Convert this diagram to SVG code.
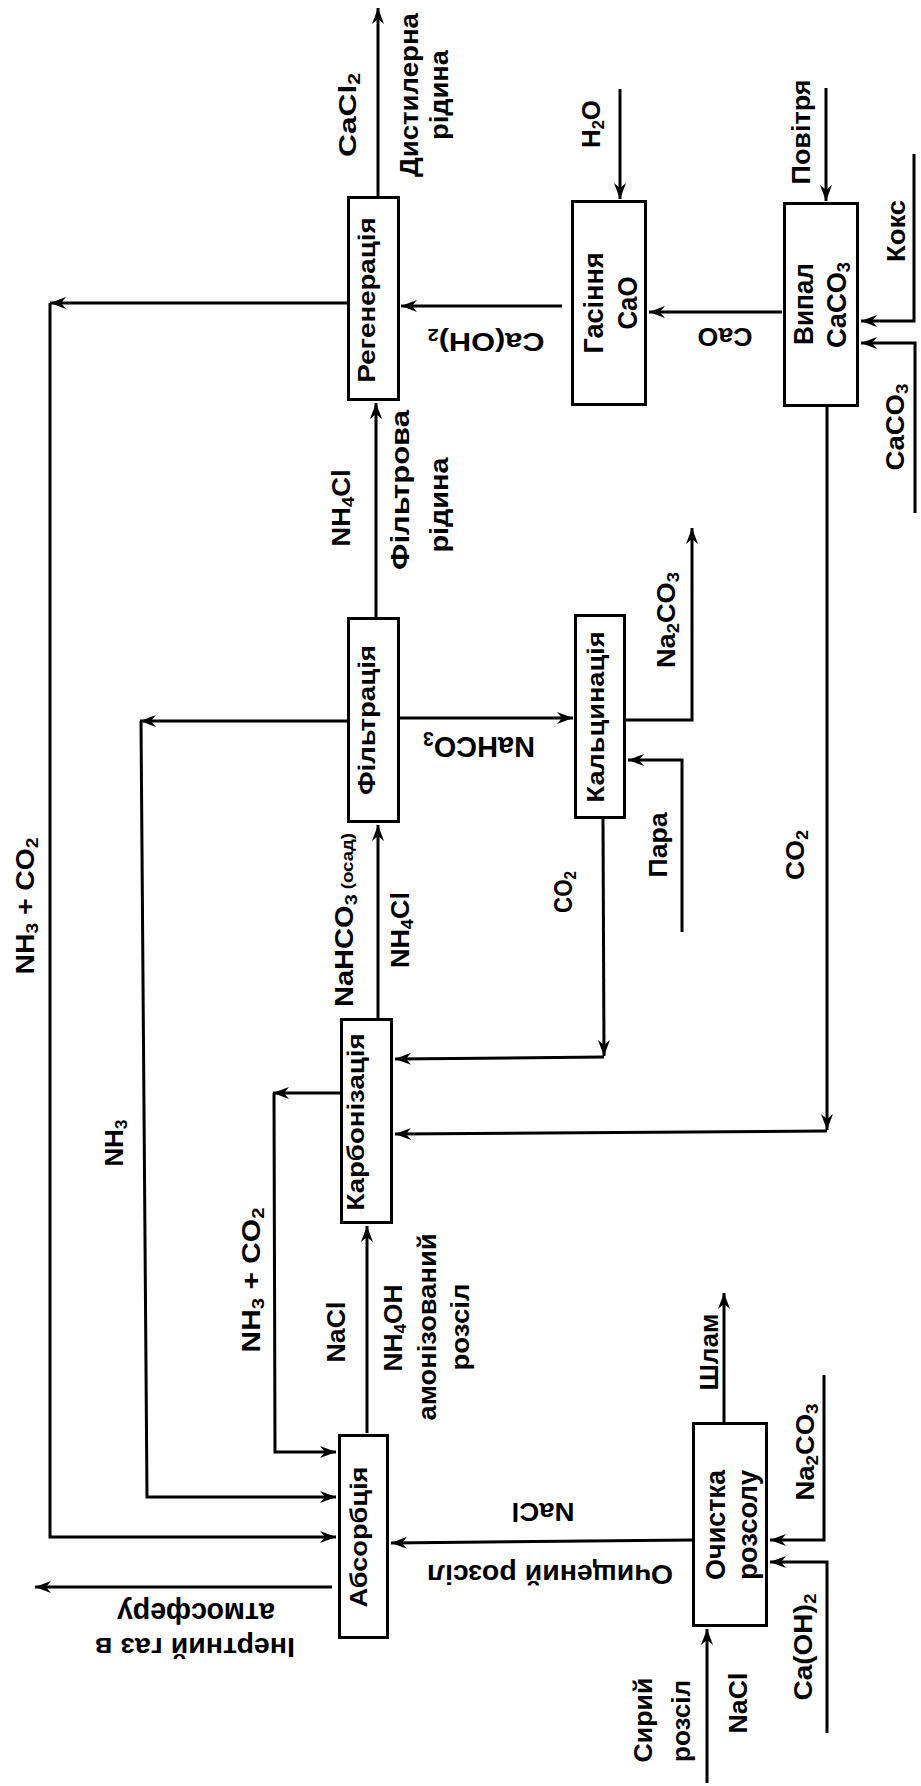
<svg xmlns="http://www.w3.org/2000/svg" width="921" height="1786" viewBox="0 0 921 1786">
<style>
.t{font-family:"Liberation Sans",Arial,sans-serif;font-weight:bold;fill:#000}
.c{fill:none;stroke:#000;stroke-width:3}
.box{fill:#fff;stroke:#000;stroke-width:3}
</style>
<defs>
<marker id="ah" viewBox="-17 -7 18 14" refX="0" refY="0" markerWidth="18" markerHeight="14" markerUnits="userSpaceOnUse" orient="auto">
<path d="M0,0 L-16,-6 L-11,0 L-16,6 Z" fill="#000"/>
</marker>
</defs>
<rect width="921" height="1786" fill="#fff"/>

<g id="connectors">
<path class="c" d="M378,196 L378,8" marker-end="url(#ah)"/>
<path class="c" d="M347,303 L50,303" marker-end="url(#ah)"/>
<path class="c" d="M50,303 L50,1537 L336,1537" marker-end="url(#ah)"/>
<path class="c" d="M562,306 L401,306" marker-end="url(#ah)"/>
<path class="c" d="M782,312 L649,312" marker-end="url(#ah)"/>
<path class="c" d="M620,89 L620,199" marker-end="url(#ah)"/>
<path class="c" d="M826,88 L826,201" marker-end="url(#ah)"/>
<path class="c" d="M914,154 L914,321 L861,321" marker-end="url(#ah)"/>
<path class="c" d="M915,513 L915,343 L861,343" marker-end="url(#ah)"/>
<path class="c" d="M827,407 L827,1130" marker-end="url(#ah)"/>
<path class="c" d="M827,1131 L395,1134" marker-end="url(#ah)"/>
<path class="c" d="M376,617 L376,403" marker-end="url(#ah)"/>
<path class="c" d="M347,721 L140,721" marker-end="url(#ah)"/>
<path class="c" d="M141,721 L147,1497 L336,1497" marker-end="url(#ah)"/>
<path class="c" d="M400,718 L573,718" marker-end="url(#ah)"/>
<path class="c" d="M378,1018 L378,825" marker-end="url(#ah)"/>
<path class="c" d="M340,1093 L273,1093" marker-end="url(#ah)"/>
<path class="c" d="M274,1093 L275,1452 L336,1452" marker-end="url(#ah)"/>
<path class="c" d="M603,819 L604,1056" marker-end="url(#ah)"/>
<path class="c" d="M604,1057 L395,1059" marker-end="url(#ah)"/>
<path class="c" d="M626,720 L692,720 L692,528" marker-end="url(#ah)"/>
<path class="c" d="M682,932 L682,760 L628,760" marker-end="url(#ah)"/>
<path class="c" d="M367,1433 L367,1226" marker-end="url(#ah)"/>
<path class="c" d="M332,1587 L35,1587" marker-end="url(#ah)"/>
<path class="c" d="M692,1540 L391,1543" marker-end="url(#ah)"/>
<path class="c" d="M724,1422 L724,1293" marker-end="url(#ah)"/>
<path class="c" d="M824,1375 L824,1540 L770,1540" marker-end="url(#ah)"/>
<path class="c" d="M827,1733 L827,1562 L770,1562" marker-end="url(#ah)"/>
<path class="c" d="M707,1783 L707,1629" marker-end="url(#ah)"/>
</g>

<g id="regeneration">
<rect class="box" x="348.5" y="197.5" width="50" height="202"/>
<text class="t" font-size="23" text-anchor="middle" textLength="165" lengthAdjust="spacingAndGlyphs" transform="translate(375,300) rotate(-90)">Регенерація</text>
</g>
<g id="slaking">
<rect class="box" x="572.5" y="201.5" width="73" height="203"/>
<text class="t" font-size="28" text-anchor="middle" textLength="101" lengthAdjust="spacingAndGlyphs" transform="translate(603,303) rotate(-90)">Гасіння</text>
<text class="t" font-size="27" text-anchor="middle" textLength="53" lengthAdjust="spacingAndGlyphs" transform="translate(637,303) rotate(-90)">CaO</text>
</g>
<g id="calcination-kiln">
<rect class="box" x="784.5" y="203.5" width="73" height="202"/>
<text class="t" font-size="27" text-anchor="middle" textLength="82" lengthAdjust="spacingAndGlyphs" transform="translate(813,304) rotate(-90)">Випал</text>
<text class="t" font-size="27" text-anchor="middle" textLength="86" lengthAdjust="spacingAndGlyphs" transform="translate(846,305) rotate(-90)">CaCO<tspan font-size="18" dy="4">3</tspan></text>
</g>
<g id="filtration">
<rect class="box" x="348.5" y="618.5" width="50" height="203"/>
<text class="t" font-size="23" text-anchor="middle" textLength="150" lengthAdjust="spacingAndGlyphs" transform="translate(375,720) rotate(-90)">Фільтрація</text>
</g>
<g id="calcination">
<rect class="box" x="575.5" y="615.5" width="49" height="202"/>
<text class="t" font-size="23" text-anchor="middle" textLength="171" lengthAdjust="spacingAndGlyphs" transform="translate(604,717) rotate(-90)">Кальцинація</text>
</g>
<g id="carbonization">
<rect class="box" x="341.5" y="1019.5" width="50" height="203"/>
<text class="t" font-size="23" text-anchor="middle" textLength="177" lengthAdjust="spacingAndGlyphs" transform="translate(364,1122) rotate(-90)">Карбонізація</text>
</g>
<g id="absorption">
<rect class="box" x="339.5" y="1435.5" width="48" height="202"/>
<text class="t" font-size="23" text-anchor="middle" textLength="141" lengthAdjust="spacingAndGlyphs" transform="translate(367,1537) rotate(-90)">Абсорбція</text>
</g>
<g id="brine-purification">
<rect class="box" x="693.5" y="1423.5" width="73" height="202"/>
<text class="t" font-size="28" text-anchor="middle" textLength="110" lengthAdjust="spacingAndGlyphs" transform="translate(725,1525) rotate(-90)">Очистка</text>
<text class="t" font-size="28" text-anchor="middle" textLength="110" lengthAdjust="spacingAndGlyphs" transform="translate(757,1525) rotate(-90)">розсолу</text>
</g>

<g id="labels">
<text class="t" font-size="24" text-anchor="middle" textLength="84" lengthAdjust="spacingAndGlyphs" transform="translate(356,115) rotate(-90)">CaCl<tspan font-size="16" dy="4">2</tspan></text>
<text class="t" font-size="25" text-anchor="middle" textLength="164" lengthAdjust="spacingAndGlyphs" transform="translate(418,95) rotate(-90)">Дистилерна</text>
<text class="t" font-size="25" text-anchor="middle" textLength="90" lengthAdjust="spacingAndGlyphs" transform="translate(448,95) rotate(-90)">рідина</text>
<text class="t" font-size="25" text-anchor="middle" textLength="48" lengthAdjust="spacingAndGlyphs" transform="translate(600,124) rotate(-90)">H<tspan font-size="16" dy="4">2</tspan><tspan dy="-4">O</tspan></text>
<text class="t" font-size="25" text-anchor="middle" textLength="105" lengthAdjust="spacingAndGlyphs" transform="translate(810,132) rotate(-90)">Повітря</text>
<text class="t" font-size="25" text-anchor="middle" textLength="62" lengthAdjust="spacingAndGlyphs" transform="translate(905,231) rotate(-90)">Кокс</text>
<text class="t" font-size="25" text-anchor="middle" textLength="87" lengthAdjust="spacingAndGlyphs" transform="translate(904,427) rotate(-90)">CaCO<tspan font-size="17" dy="4">3</tspan></text>
<text class="t" font-size="26" text-anchor="middle" textLength="117" lengthAdjust="spacingAndGlyphs" transform="translate(486,333) rotate(180)">Ca(OH)<tspan font-size="17" dy="4">2</tspan></text>
<text class="t" font-size="26" text-anchor="middle" textLength="55" lengthAdjust="spacingAndGlyphs" transform="translate(725,328) rotate(180)">CaO</text>
<text class="t" font-size="25" text-anchor="middle" textLength="77" lengthAdjust="spacingAndGlyphs" transform="translate(350,508) rotate(-90)">NH<tspan font-size="17" dy="4">4</tspan><tspan dy="-4">Cl</tspan></text>
<text class="t" font-size="25" text-anchor="middle" textLength="160" lengthAdjust="spacingAndGlyphs" transform="translate(409,490) rotate(-90)">Фільтрова</text>
<text class="t" font-size="25" text-anchor="middle" textLength="95" lengthAdjust="spacingAndGlyphs" transform="translate(448,505) rotate(-90)">рідина</text>
<text class="t" font-size="30" text-anchor="middle" textLength="112" lengthAdjust="spacingAndGlyphs" transform="translate(479,737) rotate(180)">NaHCO<tspan font-size="20" dy="5">3</tspan></text>
<text class="t" font-size="25" text-anchor="middle" textLength="96" lengthAdjust="spacingAndGlyphs" transform="translate(675,620) rotate(-90)">Na<tspan font-size="17" dy="4">2</tspan><tspan dy="-4">CO</tspan><tspan font-size="17" dy="4">3</tspan></text>
<text class="t" font-size="25" text-anchor="middle" textLength="65" lengthAdjust="spacingAndGlyphs" transform="translate(667,845) rotate(-90)">Пара</text>
<text class="t" font-size="25" text-anchor="middle" textLength="42" lengthAdjust="spacingAndGlyphs" transform="translate(572,892) rotate(-90)">CO<tspan font-size="17" dy="4">2</tspan></text>
<text class="t" font-size="25" text-anchor="middle" textLength="50" lengthAdjust="spacingAndGlyphs" transform="translate(804,855) rotate(-90)">CO<tspan font-size="17" dy="4">2</tspan></text>
<text class="t" font-size="25" text-anchor="middle" textLength="174" lengthAdjust="spacingAndGlyphs" transform="translate(353,920) rotate(-90)">NaHCO<tspan font-size="17" dy="4">3</tspan><tspan font-size="16" dy="-4"> (осад)</tspan></text>
<text class="t" font-size="25" text-anchor="middle" textLength="76" lengthAdjust="spacingAndGlyphs" transform="translate(409,930) rotate(-90)">NH<tspan font-size="17" dy="4">4</tspan><tspan dy="-4">Cl</tspan></text>
<text class="t" font-size="25" text-anchor="middle" textLength="137" lengthAdjust="spacingAndGlyphs" transform="translate(34,906) rotate(-90)">NH<tspan font-size="17" dy="4">3</tspan><tspan dy="-4"> + CO</tspan><tspan font-size="17" dy="4">2</tspan></text>
<text class="t" font-size="25" text-anchor="middle" textLength="47" lengthAdjust="spacingAndGlyphs" transform="translate(123,1143) rotate(-90)">NH<tspan font-size="17" dy="4">3</tspan></text>
<text class="t" font-size="25" text-anchor="middle" textLength="145" lengthAdjust="spacingAndGlyphs" transform="translate(260,1280) rotate(-90)">NH<tspan font-size="17" dy="4">3</tspan><tspan dy="-4"> + CO</tspan><tspan font-size="17" dy="4">2</tspan></text>
<text class="t" font-size="25" text-anchor="middle" textLength="61" lengthAdjust="spacingAndGlyphs" transform="translate(345,1332) rotate(-90)">NaCl</text>
<text class="t" font-size="26" text-anchor="middle" textLength="87" lengthAdjust="spacingAndGlyphs" transform="translate(402,1328) rotate(-90)">NH<tspan font-size="17" dy="4">4</tspan><tspan dy="-4">OH</tspan></text>
<text class="t" font-size="26" text-anchor="middle" textLength="187" lengthAdjust="spacingAndGlyphs" transform="translate(436,1327) rotate(-90)">амонізований</text>
<text class="t" font-size="26" text-anchor="middle" textLength="87" lengthAdjust="spacingAndGlyphs" transform="translate(469,1327) rotate(-90)">розсіл</text>
<text class="t" font-size="26" text-anchor="middle" textLength="63" lengthAdjust="spacingAndGlyphs" transform="translate(543,1503) rotate(180)">NaCl</text>
<text class="t" font-size="27" text-anchor="middle" textLength="246" lengthAdjust="spacingAndGlyphs" transform="translate(550,1565) rotate(180)">Очищений розсіл</text>
<text class="t" font-size="28" text-anchor="middle" textLength="200" lengthAdjust="spacingAndGlyphs" transform="translate(195,1638) rotate(180)">Інертний газ в</text>
<text class="t" font-size="29" text-anchor="middle" textLength="158" lengthAdjust="spacingAndGlyphs" transform="translate(196,1603) rotate(180)">атмосферу</text>
<text class="t" font-size="25" text-anchor="middle" textLength="77" lengthAdjust="spacingAndGlyphs" transform="translate(718,1352) rotate(-90)">Шлам</text>
<text class="t" font-size="25" text-anchor="middle" textLength="97" lengthAdjust="spacingAndGlyphs" transform="translate(814,1452) rotate(-90)">Na<tspan font-size="17" dy="4">2</tspan><tspan dy="-4">CO</tspan><tspan font-size="17" dy="4">3</tspan></text>
<text class="t" font-size="25" text-anchor="middle" textLength="107" lengthAdjust="spacingAndGlyphs" transform="translate(812,1647) rotate(-90)">Ca(OH)<tspan font-size="17" dy="4">2</tspan></text>
<text class="t" font-size="25" text-anchor="middle" textLength="85" lengthAdjust="spacingAndGlyphs" transform="translate(652,1720) rotate(-90)">Сирий</text>
<text class="t" font-size="25" text-anchor="middle" textLength="82" lengthAdjust="spacingAndGlyphs" transform="translate(690,1721) rotate(-90)">розсіл</text>
<text class="t" font-size="25" text-anchor="middle" textLength="61" lengthAdjust="spacingAndGlyphs" transform="translate(747,1703) rotate(-90)">NaCl</text>
</g>
</svg>
